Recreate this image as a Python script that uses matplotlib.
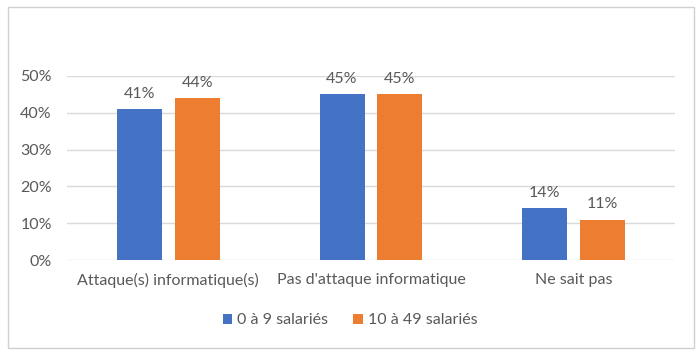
import numpy as np
import matplotlib.pyplot as plt
from matplotlib.patches import Rectangle

categories = ["Attaque(s) informatique(s)", "Pas d'attaque informatique", "Ne sait pas"]
series_names = ["0 à 9 salariés", "10 à 49 salariés"]
small = [41, 45, 14]
medium = [44, 45, 11]
yticks = [0, 10, 20, 30, 40, 50]

plt.rcParams['font.family'] = ['Lato', 'DejaVu Sans']
txt = '#595959'
fs = 11.5

fig = plt.figure(figsize=(7, 3.55), dpi=100)
fig.patches.append(Rectangle((0.012, 0.02), 0.98, 0.96, transform=fig.transFigure,
                             fill=False, edgecolor='#d0d0d0', linewidth=1))
ax = fig.add_axes([0.0957, 0.2676, 0.8686, 0.5184])

x = np.arange(len(categories))
w = 0.222
off = 0.143
b1 = ax.bar(x - off, small, w, color='#4472C4', label=series_names[0], zorder=3)
b2 = ax.bar(x + off, medium, w, color='#ED7D31', label=series_names[1], zorder=3)

for bars in (b1, b2):
    for r in bars:
        ax.text(r.get_x() + r.get_width() / 2, r.get_height() + 2.2, f"{int(r.get_height())}%",
                ha='center', va='bottom', fontsize=fs, color=txt)

ax.set_xlim(-0.5, 2.5)
ax.set_ylim(0, 50)
ax.set_yticks(yticks)
ax.set_yticklabels([f"{t}%" for t in yticks], fontsize=fs, color=txt)
ax.set_xticks(x)
ax.set_xticklabels(categories, fontsize=fs, color=txt)
ax.tick_params(length=0)
ax.tick_params(axis='y', pad=11)
ax.tick_params(axis='x', pad=9)
ax.yaxis.grid(True, color='#d9d9d9', linewidth=1, zorder=0)
ax.set_axisbelow(True)
for s in ax.spines.values():
    s.set_visible(False)

leg = fig.legend(handles=[b1, b2], labels=series_names, loc='center', bbox_to_anchor=(0.5, 0.098),
                 ncol=2, frameon=False, fontsize=fs, handlelength=0.6, handleheight=0.6,
                 handletextpad=0.3, columnspacing=1.6)
for t in leg.get_texts():
    t.set_color(txt)

fig.savefig('out.png', dpi=100)
